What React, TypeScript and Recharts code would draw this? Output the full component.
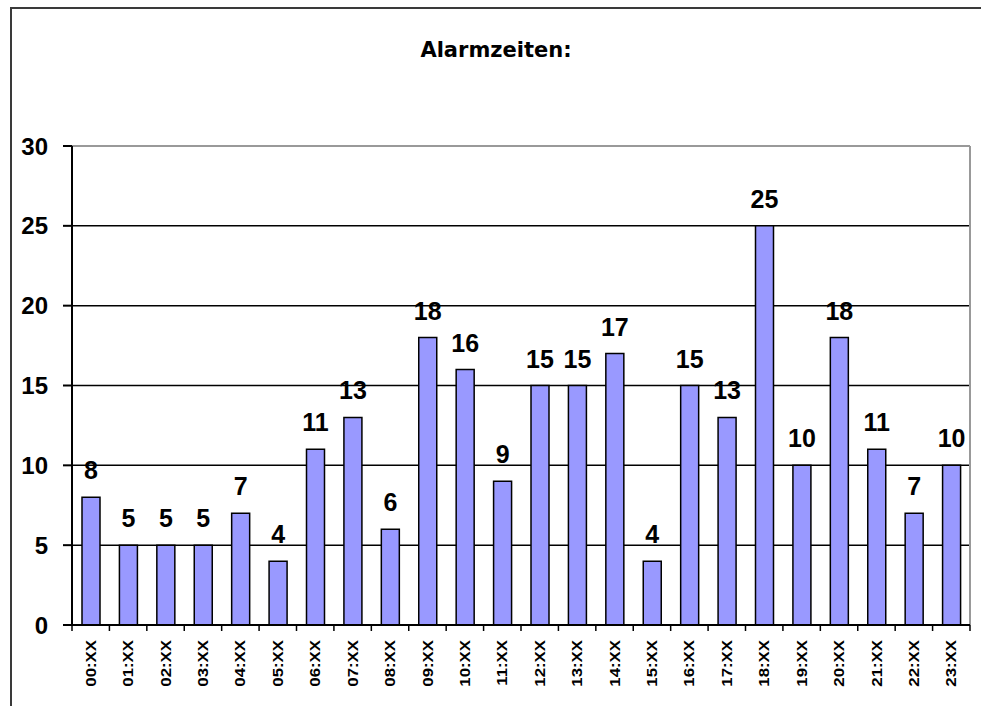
import React from 'react';
import {
  BarChart,
  Bar,
  XAxis,
  YAxis,
  CartesianGrid,
  LabelList,
} from 'recharts';

const hours = [
  '00:XX', '01:XX', '02:XX', '03:XX', '04:XX', '05:XX', '06:XX', '07:XX',
  '08:XX', '09:XX', '10:XX', '11:XX', '12:XX', '13:XX', '14:XX', '15:XX',
  '16:XX', '17:XX', '18:XX', '19:XX', '20:XX', '21:XX', '22:XX', '23:XX',
];
const alarms = [8, 5, 5, 5, 7, 4, 11, 13, 6, 18, 16, 9, 15, 15, 17, 4, 15, 13, 25, 10, 18, 11, 7, 10];
const yTicks = [0, 5, 10, 15, 20, 25, 30];
const gridValues = [5, 10, 15, 20, 25];

const data = hours.map((hour, i) => ({ hour, count: alarms[i] }));

// the chart frame runs past the right edge of the page, like the original
const W = 1000;
const H = 706;
const PLOT_LEFT = 72;
const PLOT_RIGHT = 970;
const AXIS_Y = 625;
const BAND = (PLOT_RIGHT - PLOT_LEFT) / hours.length;

const ARIAL = '"Liberation Sans", Arial, sans-serif';

// hour label rotated, with the tick mark on the category boundary
function HourTick(props: any) {
  const { x, payload, index } = props;
  const half = payload && payload.offset ? payload.offset : BAND / 2;
  const left = x - half;
  return (
    <g>
      <line x1={left} x2={left} y1={AXIS_Y} y2={AXIS_Y + 6} stroke="#000" strokeWidth={1.5} />
      {index === hours.length - 1 && (
        <line x1={x + half} x2={x + half} y1={AXIS_Y} y2={AXIS_Y + 6} stroke="#000" strokeWidth={1.5} />
      )}
      <text
        transform={`translate(${x},${AXIS_Y + 15}) rotate(-90) scale(1.2,1)`}
        textAnchor="end"
        dy="0.36em"
        fontSize={14}
        fontWeight="bold"
        fontFamily={ARIAL}
        fill="#000"
      >
        {payload.value}
      </text>
    </g>
  );
}

export default function App() {
  return (
    <div
      style={{
        position: 'fixed',
        left: 0,
        top: 0,
        width: W,
        height: H,
        overflow: 'hidden',
        background: '#fff',
      }}
    >
      <div
        style={{
          position: 'absolute',
          left: 10,
          top: 7,
          width: 2,
          height: H,
          background: '#3a3a3a',
        }}
      />
      <div
        style={{
          position: 'absolute',
          left: 10,
          top: 7,
          width: W,
          height: 2,
          background: '#3a3a3a',
        }}
      />
      <div style={{ position: 'absolute', left: 0, top: 0 }}>
        <BarChart
          width={W}
          height={H}
          data={data}
          accessibilityLayer={false}
          margin={{ top: 146, right: W - PLOT_RIGHT, bottom: 11, left: 0 }}
          barCategoryGap={0}
        >
          <CartesianGrid
            vertical={false}
            horizontalValues={gridValues}
            stroke="#000"
            strokeWidth={1.5}
          />
          {/* grey plot frame: top and right edges */}
          <CartesianGrid
            horizontalCoordinatesGenerator={({ offset }: any) => [offset.top]}
            verticalCoordinatesGenerator={({ offset }: any) => [offset.left + offset.width]}
            stroke="#999"
            strokeWidth={2}
          />
          <XAxis
            dataKey="hour"
            height={70}
            axisLine={{ stroke: '#000', strokeWidth: 2 }}
            tickLine={false}
            interval={0}
            tick={<HourTick />}
          />
          <YAxis
            width={PLOT_LEFT}
            domain={[0, 30]}
            ticks={yTicks}
            interval={0}
            tickSize={9}
            tickMargin={15}
            axisLine={{ stroke: '#000', strokeWidth: 2 }}
            tickLine={{ stroke: '#000', strokeWidth: 2 }}
            tick={{ fill: '#000', fontSize: 24, fontWeight: 'bold', fontFamily: ARIAL }}
          />
          <Bar
            dataKey="count"
            fill="#9999ff"
            stroke="#000"
            strokeWidth={1.5}
            barSize={18}
            isAnimationActive={false}
          >
            <LabelList
              dataKey="count"
              position="top"
              offset={18}
              fill="#000"
              fontSize={25}
              fontWeight="bold"
              fontFamily={ARIAL}
            />
          </Bar>
        </BarChart>
      </div>
      <svg
        width={W}
        height={80}
        style={{ position: 'absolute', left: 0, top: 0, pointerEvents: 'none' }}
      >
        <text
          x={496}
          y={57}
          textAnchor="middle"
          fontSize={21}
          fontWeight="bold"
          fontFamily='"DejaVu Sans", Verdana, sans-serif'
          fill="#000"
        >
          Alarmzeiten:
        </text>
      </svg>
    </div>
  );
}
